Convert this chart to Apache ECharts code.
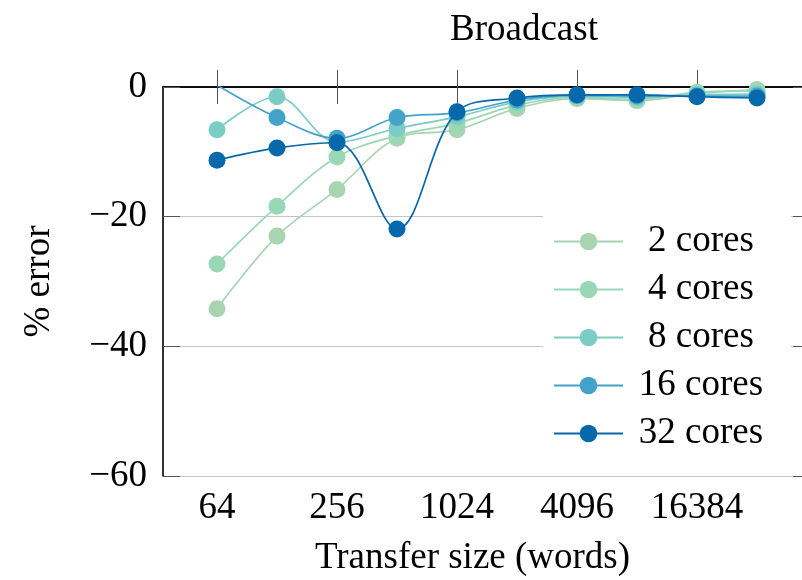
<!DOCTYPE html>
<html>
<head>
<meta charset="utf-8">
<script src="https://cdn.jsdelivr.net/npm/echarts@6/dist/echarts.min.js"></script>
<style>html,body{margin:0;padding:0;background:#fff;}#c{width:802px;height:580px;}</style>
</head>
<body>
<div id="c"></div>
<script>
// Transfer sizes (words)
const sizes = [64, 128, 256, 512, 1024, 2048, 4096, 8192, 16384, 32768];
// % error per core count
const cores2  = [-34.2, -23.0, -15.8, -7.9, -6.6, -3.3, -1.8, -2.1, -1.0, -0.4];
const cores4  = [-27.3, -18.4, -10.8, -7.5, -5.6, -2.8, -1.6, -1.9, -0.8, -0.6];
const cores8  = [-6.6, -1.5, -8.5, -6.4, -4.6, -2.3, -1.4, -1.6, -1.2, -1.1];
const cores16 = [0.3, -4.7, -7.9, -4.7, -4.0, -2.0, -1.3, -1.4, -1.4, -1.4];
const cores32 = [-11.3, -9.4, -8.6, -21.9, -3.8, -1.7, -1.2, -1.2, -1.5, -1.7];
const seriesNames = ['2 cores', '4 cores', '8 cores', '16 cores', '32 cores'];
const xTickSizes = [64, 256, 1024, 4096, 16384];
const yTicks = [-60, -40, -20, 0];

const colors = ['#a8d4b2', '#99d8b5', '#7bccc4', '#43a2ca', '#0868ac'];
const FONT = "'Liberation Serif', 'DejaVu Serif', serif";
const allData = [cores2, cores4, cores8, cores16, cores32];
const xTickVals = xTickSizes.map(s => Math.log2(s));

const chart = echarts.init(document.getElementById('c'), null, {renderer: 'canvas'});

const tickStyle = {show: true, inside: true, length: 17, lineStyle: {color: '#555', width: 1}};
const axisLineStyle = {show: true, lineStyle: {color: '#000', width: 1.6}};

const option = {
  animation: false,
  backgroundColor: '#fff',
  textStyle: {fontFamily: FONT},
  title: [{
    text: 'Broadcast',
    left: 519, top: 7, textAlign: 'center',
    textStyle: {fontFamily: FONT, fontSize: 37, fontWeight: 'normal', color: '#000'}
  }],
  grid: {left: 163, right: -8, top: 87, bottom: 104, containLabel: false, outerBoundsMode: 'none'},
  xAxis: [{
    type: 'value', position: 'bottom',
    min: 5.1, max: 15.883,
    axisLine: axisLineStyle,
    axisTick: Object.assign({customValues: xTickVals}, tickStyle),
    axisLabel: {
      customValues: xTickVals, margin: 14,
      fontFamily: FONT, fontSize: 37, color: '#000',
      formatter: v => String(Math.round(Math.pow(2, v)))
    },
    splitLine: {show: false},
    name: 'Transfer size (words)', nameLocation: 'middle', nameGap: 64,
    nameTextStyle: {fontFamily: FONT, fontSize: 37, color: '#000', padding: [0, 28, 0, 0]}
  }, {
    type: 'value', position: 'top',
    min: 5.1, max: 15.883,
    axisLine: axisLineStyle,
    axisTick: Object.assign({customValues: xTickVals}, tickStyle),
    axisLabel: {show: false},
    splitLine: {show: false}
  }],
  yAxis: [{
    type: 'value', position: 'left',
    min: -60, max: 0, interval: 20,
    axisLine: axisLineStyle,
    axisTick: tickStyle,
    axisLabel: {
      margin: 16, fontFamily: FONT, fontSize: 37, color: '#000',
      formatter: v => v < 0 ? '\u2212' + (-v) : String(v)
    },
    splitLine: {show: true, lineStyle: {color: '#c4c4c4', width: 1}},
    name: '% error', nameLocation: 'middle', nameGap: 105, nameRotate: 90,
    nameTextStyle: {fontFamily: FONT, fontSize: 37, color: '#000'}
  }, {
    type: 'value', position: 'right',
    min: -60, max: 0, interval: 20,
    axisLine: axisLineStyle,
    axisTick: tickStyle,
    axisLabel: {show: false},
    splitLine: {show: false}
  }],
  legend: {
    orient: 'vertical',
    left: 543, top: 213,
    padding: [10, 17, 10, 10],
    backgroundColor: '#fff',
    itemWidth: 69, itemHeight: 22, itemGap: 11,
    data: seriesNames,
    formatter: name => '{a|' + name + '}',
    textStyle: {
      fontFamily: FONT, fontSize: 37, color: '#000',
      rich: {a: {fontFamily: FONT, fontSize: 37, lineHeight: 37, width: 146, align: 'center', color: '#000'}}
    }
  },
  series: allData.map((arr, i) => ({
    name: seriesNames[i],
    type: 'line',
    xAxisIndex: 0, yAxisIndex: 0,
    smooth: 0.35,
    symbol: 'circle', symbolSize: 17,
    clip: true,
    z: 2 + i,
    itemStyle: {color: colors[i]},
    lineStyle: {color: colors[i], width: 1.7},
    emphasis: {disabled: true},
    data: sizes.map((s, j) => [Math.log2(s), arr[j]])
  }))
};
chart.setOption(option);
</script>
</body>
</html>
